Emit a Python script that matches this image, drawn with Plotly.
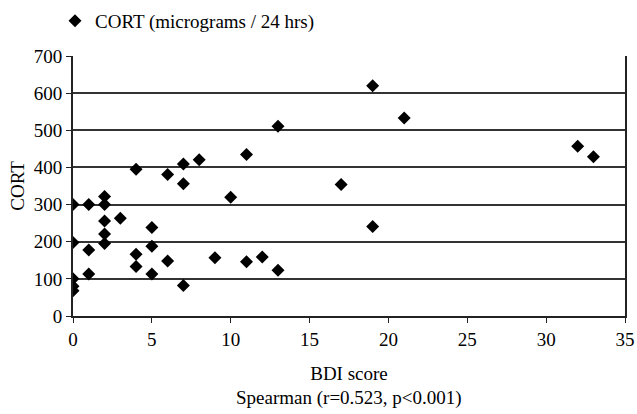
import plotly.graph_objects as go

bdi = [0, 0, 0, 0, 0,
       1, 1, 1,
       2, 2, 2, 2, 2,
       3,
       4, 4, 4,
       5, 5, 5,
       6, 6,
       7, 7, 7,
       8, 9, 10,
       11, 11,
       12,
       13, 13,
       17,
       19, 19,
       21, 32, 33]
cort = [300, 198, 100, 80, 68,
        300, 178, 113,
        322, 300, 256, 221, 195,
        263,
        395, 166, 133,
        238, 188, 113,
        381, 148,
        409, 356, 82,
        421, 157, 320,
        435, 146,
        159,
        511, 123,
        354,
        620, 241,
        533, 457, 429]

FONT = "Liberation Serif, Times New Roman, serif"
FS = 19

fig = go.Figure()
fig.add_trace(go.Scatter(
    x=bdi, y=cort, mode="markers", name="CORT (micrograms / 24 hrs)",
    marker=dict(symbol="diamond", size=10, color="black"),
))

fig.update_layout(
    width=637, height=414,
    margin=dict(l=73, r=12, t=56, b=98),
    paper_bgcolor="white", plot_bgcolor="white",
    font=dict(family=FONT, size=FS, color="black"),
    showlegend=True,
    legend=dict(orientation="h", xref="container", yref="container",
                x=55 / 637, xanchor="left", y=1 - 21 / 414, yanchor="middle",
                font=dict(family=FONT, size=FS), itemwidth=30, bgcolor="rgba(0,0,0,0)"),
    xaxis=dict(range=[0, 35], tickvals=[0, 5, 10, 15, 20, 25, 30, 35], automargin=False,
               showgrid=False, zeroline=False, showline=True, linecolor="#222", linewidth=2,
               ticks="outside", ticklen=5, tickcolor="#222", mirror=False,
               title=dict(text="BDI score", standoff=18, font=dict(size=FS))),
    yaxis=dict(range=[0, 700], tickvals=[0, 100, 200, 300, 400, 500, 600, 700], automargin=False,
               showgrid=True, gridcolor="#333", gridwidth=1.5, zeroline=False,
               showline=True, linecolor="#222", linewidth=2, mirror=True,
               ticks="outside", ticklen=5, tickcolor="#222",
               title=dict(text="CORT", standoff=4, font=dict(size=FS))),
    annotations=[dict(text="Spearman (r=0.523, p<0.001)", xref="paper", yref="paper",
                      x=0.5, y=-(398 - 316) / 260, xanchor="center", yanchor="middle", showarrow=False,
                      font=dict(family=FONT, size=FS))],
)

fig.write_html("out.html", config={"displayModeBar": False},
               post_script="document.body.style.margin='0';")
